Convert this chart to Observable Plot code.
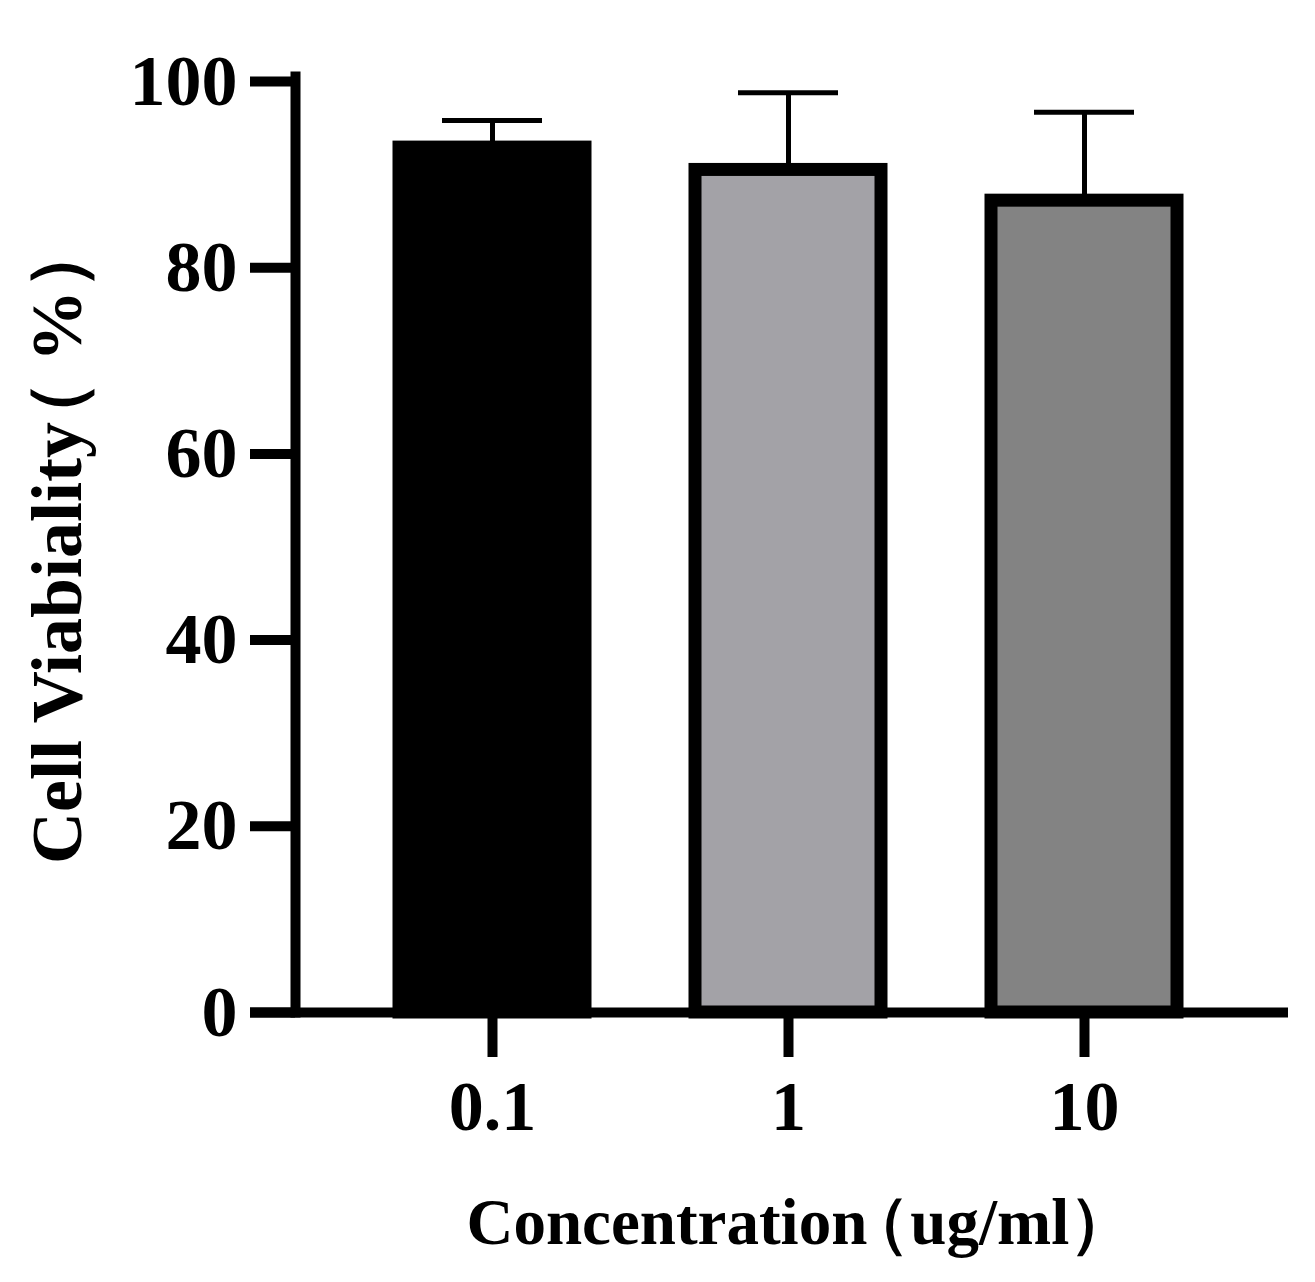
<!DOCTYPE html>
<html>
<head>
<meta charset="utf-8">
<script src="https://cdn.jsdelivr.net/npm/d3@7"></script>
<script src="https://cdn.jsdelivr.net/npm/@observablehq/plot@0.6"></script>
<style>
  html, body { margin: 0; padding: 0; background: #fff; }
</style>
</head>
<body>
<div id="chart"></div>
<script>
const categories = ["0.1", "1", "10"];
const means = [92.9, 90.5, 87.2];
const sds = [2.9, 8.3, 9.5];
const fills = ["#000000", "#a3a2a7", "#838383"];
const yTicks = [0, 20, 40, 60, 80, 100];
const xTitleParts = ["Concentration", "（ug/ml）"];
const yTitleParts = ["Cell Viabiality", "（ %）"];
const xTitle = xTitleParts.join("");
const yTitle = yTitleParts.join("");

const data = categories.map((c, i) => ({c, mean: means[i], sd: sds[i], top: means[i] + sds[i], fill: fills[i]}));

const font = "'Liberation Serif', 'Times New Roman', serif";

const chart = Plot.plot({
  width: 1315,
  height: 1282,
  marginLeft: 295,
  marginRight: 34,
  marginTop: 81,
  marginBottom: 270,
  style: {fontFamily: font, background: "#fff", color: "#000"},
  x: {domain: categories, paddingInner: 0.372, paddingOuter: 0.351, axis: null},
  y: {domain: [0, 100], axis: null},
  marks: [
    Plot.ruleX(data, {x: "c", y1: "mean", y2: "top", stroke: "#000", strokeWidth: 5}),
    Plot.tickY(data, {x: "c", y: "top", stroke: "#000", strokeWidth: 5, insetLeft: 43, insetRight: 43}),
    Plot.barY(data, {x: "c", y1: 0, y2: "mean", fill: "fill", stroke: "#000", strokeWidth: 13}),
    Plot.frame({anchor: "left", stroke: "#000", strokeWidth: 10, insetTop: -5}),
    Plot.ruleY([0], {stroke: "#000", strokeWidth: 10, insetLeft: -45, insetRight: -7}),
    Plot.axisY({ticks: yTicks, tickSize: 45, tickPadding: 13, strokeWidth: 10, fontSize: 72, fontWeight: "bold", label: null, tickFormat: d => String(d)}),
    Plot.axisX({tickSize: 45, tickPadding: 23, strokeWidth: 10, fontSize: 70, fontWeight: "bold", label: null}),
    Plot.text([yTitle], {frameAnchor: "left", dx: -215, dy: 317, rotate: -90, textAnchor: "start", lineAnchor: "bottom", fontSize: 72, fontWeight: "bold", fill: "#000"}),
    Plot.text([xTitle], {frameAnchor: "bottom-left", dx: 171, dy: 231, textAnchor: "start", lineAnchor: "bottom", fontSize: 65, fontWeight: "bold", fill: "#000"})
  ]
});

document.getElementById("chart").appendChild(chart);

function splitTitle(t, parts, parenShift) {
  while (t.firstChild) t.removeChild(t.firstChild);
  const ns = "http://www.w3.org/2000/svg";
  const a = document.createElementNS(ns, "tspan");
  a.textContent = parts[0];
  const b = document.createElementNS(ns, "tspan");
  b.textContent = parts[1];
  b.setAttribute("dx", parenShift);
  t.appendChild(a);
  t.appendChild(b);
}

chart.querySelectorAll("text").forEach(t => {
  if (t.textContent === xTitle) splitTitle(t, xTitleParts, -22);
  else if (t.textContent === yTitle) splitTitle(t, yTitleParts, -30);
});
</script>
</body>
</html>
